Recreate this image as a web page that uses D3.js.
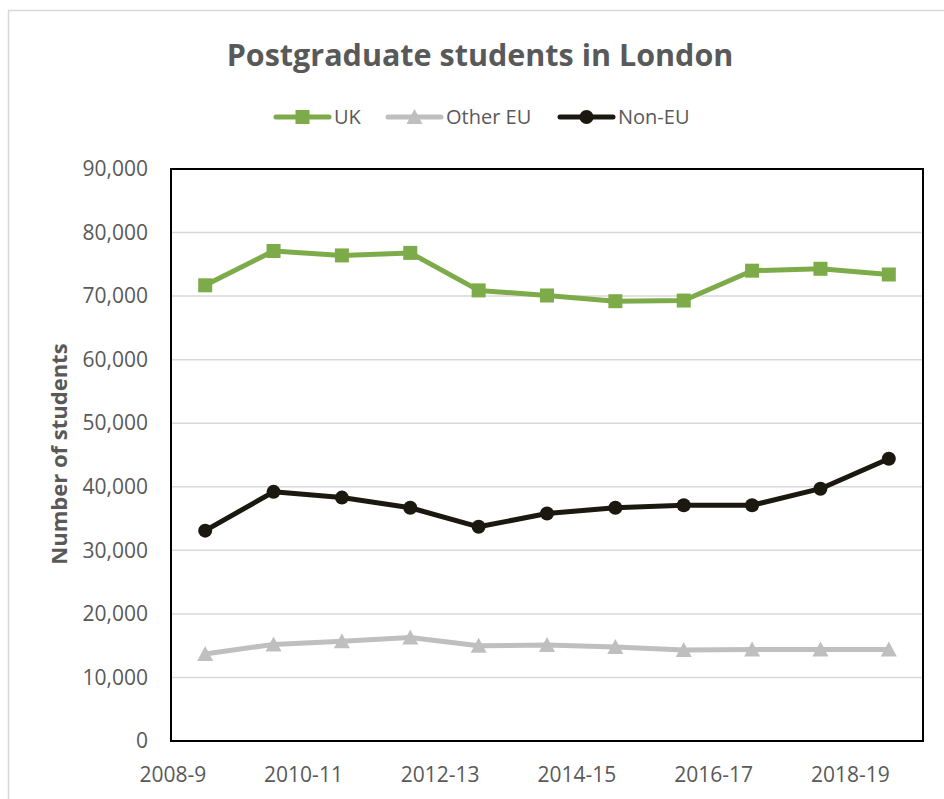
<!DOCTYPE html>
<html>
<head>
<meta charset="utf-8">
<script src="https://cdn.jsdelivr.net/npm/d3@7"></script>
<style>
  body { margin: 0; background: #fff; }
  text { font-family: "Open Sans", sans-serif; fill: #595959; }
</style>
</head>
<body>
<div id="chart"></div>
<script>
// data
var years = ["2008-9", "2009-10", "2010-11", "2011-12", "2012-13", "2013-14",
             "2014-15", "2015-16", "2016-17", "2017-18", "2018-19"];
var shownYears = ["2008-9", "2010-11", "2012-13", "2014-15", "2016-17", "2018-19"];
var ukValues = [71700, 77100, 76400, 76800, 70900, 70100, 69200, 69300, 74000, 74300, 73400];
var otherEuValues = [13700, 15200, 15700, 16300, 15000, 15100, 14800, 14300, 14400, 14400, 14400];
var nonEuValues = [33100, 39200, 38300, 36700, 33700, 35800, 36700, 37100, 37100, 39700, 44400];
var yTicks = [0, 10000, 20000, 30000, 40000, 50000, 60000, 70000, 80000, 90000];

var series = [
  { name: "UK", values: ukValues, color: "#7eab4a", marker: "square" },
  { name: "Other EU", values: otherEuValues, color: "#bfbfbf", marker: "triangle" },
  { name: "Non-EU", values: nonEuValues, color: "#1b1810", marker: "circle" }
];

var width = 944, height = 799;
var plotLeft = 171, plotRight = 923, plotTop = 169, plotBottom = 741;

var svg = d3.select("#chart")
  .append("svg")
    .attr("width", width)
    .attr("height", height);

// chart area border
svg.append("rect")
  .attr("x", 8.5).attr("y", 10.5)
  .attr("width", 960).attr("height", 820)
  .attr("fill", "#fff")
  .attr("stroke", "#d9d9d9")
  .attr("stroke-width", 1.5);

var x = d3.scaleBand()
  .domain(years)
  .range([plotLeft, plotRight]);

var y = d3.scaleLinear()
  .domain([0, 90000])
  .range([plotBottom, plotTop]);

// gridlines
svg.append("g")
  .selectAll("line")
  .data(yTicks)
  .enter()
  .append("line")
    .attr("x1", plotLeft).attr("x2", plotRight)
    .attr("y1", function(d){ return y(d); })
    .attr("y2", function(d){ return y(d); })
    .attr("stroke", "#d9d9d9")
    .attr("stroke-width", 1.5);

// plot area border
svg.append("rect")
  .attr("x", plotLeft).attr("y", plotTop)
  .attr("width", plotRight - plotLeft).attr("height", plotBottom - plotTop)
  .attr("fill", "none")
  .attr("stroke", "#000")
  .attr("stroke-width", 2);

// y axis labels
var yAxis = d3.axisLeft(y)
  .tickValues(yTicks)
  .tickSize(0)
  .tickPadding(23)
  .tickFormat(d3.format(","));

svg.append("g")
  .attr("transform", "translate(" + plotLeft + ",0)")
  .call(yAxis)
  .call(function(g){ g.select(".domain").remove(); })
  .selectAll("text")
    .attr("font-family", "Open Sans")
    .attr("font-size", 21)
    .attr("fill", "#595959");

// x axis labels, right aligned on the points
svg.append("g")
  .selectAll("text")
  .data(shownYears)
  .enter()
  .append("text")
    .attr("x", function(d){ return x(d) + x.bandwidth() / 2 + 1; })
    .attr("y", 782)
    .attr("text-anchor", "end")
    .attr("font-size", 21)
    .text(function(d){ return d; });

// axis title
svg.append("text")
  .attr("transform", "translate(67," + 454 + ") rotate(-90)")
  .attr("text-anchor", "middle")
  .attr("font-size", 22)
  .attr("font-weight", "bold")
  .text("Number of students");

// title
var title = svg.append("text")
  .attr("x", 480)
  .attr("y", 66)
  .attr("text-anchor", "middle")
  .attr("font-size", 28)
  .attr("font-weight", "bold")
  .text("Postgraduate students in London");
var tw = title.node().getComputedTextLength();
title.attr("font-size", 28 * 507 / tw);

var line = d3.line()
  .x(function(d, i){ return x(years[i]) + x.bandwidth() / 2; })
  .y(function(d){ return y(d); });

function drawMarker(g, kind, color, cx, cy) {
  if (kind === "square") {
    g.append("rect")
      .attr("x", cx - 7).attr("y", cy - 7)
      .attr("width", 14).attr("height", 14)
      .attr("fill", color);
  } else if (kind === "triangle") {
    g.append("path")
      .attr("d", "M" + cx + "," + (cy - 8) + "L" + (cx + 8) + "," + (cy + 7) + "L" + (cx - 8) + "," + (cy + 7) + "Z")
      .attr("fill", color);
  } else {
    g.append("circle")
      .attr("cx", cx).attr("cy", cy).attr("r", 7)
      .attr("fill", color);
  }
}

// series
series.forEach(function(s){
  var g = svg.append("g");
  g.append("path")
    .datum(s.values)
    .attr("d", line)
    .attr("fill", "none")
    .attr("stroke", s.color)
    .attr("stroke-width", 5)
    .attr("stroke-linejoin", "round");
  s.values.forEach(function(v, i){
    drawMarker(g, s.marker, s.color, x(years[i]) + x.bandwidth() / 2, y(v));
  });
});

// legend
var legendX = [276, 388, 560];
series.forEach(function(s, i){
  var g = svg.append("g");
  var lx = legendX[i], ly = 117;
  g.append("line")
    .attr("x1", lx).attr("x2", lx + 53)
    .attr("y1", ly).attr("y2", ly)
    .attr("stroke", s.color)
    .attr("stroke-width", 5)
    .attr("stroke-linecap", "round");
  drawMarker(g, s.marker, s.color, lx + 26.5, ly);
  g.append("text")
    .attr("x", lx + 58)
    .attr("y", ly + 7)
    .attr("font-size", 20)
    .text(s.name);
});
</script>
</body>
</html>
